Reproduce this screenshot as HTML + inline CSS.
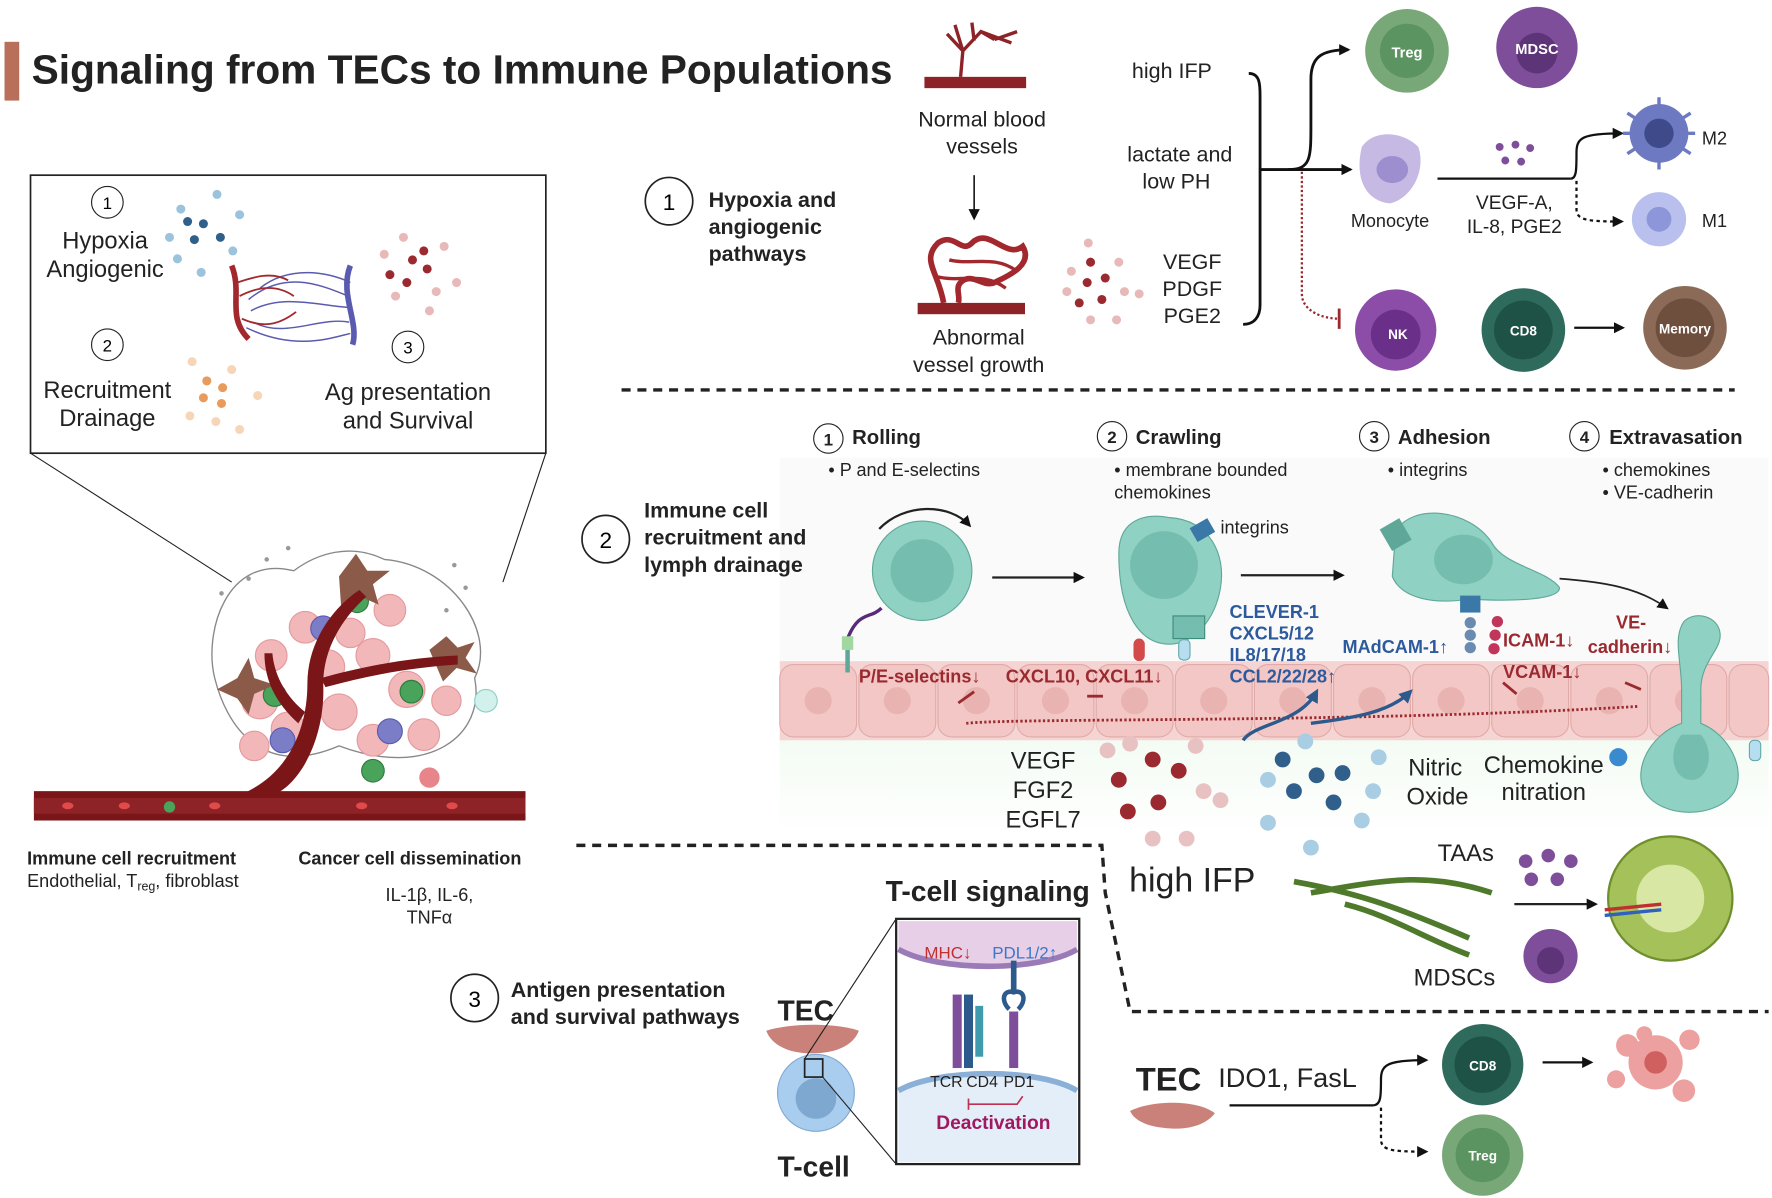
<!DOCTYPE html>
<html><head><meta charset="utf-8">
<style>
html,body{margin:0;padding:0;background:#fff;}
svg{display:block;}
text{font-family:"Liberation Sans",Arial,sans-serif;}
</style></head>
<body>
<svg width="1772" height="1198" viewBox="0 0 1568 1060" preserveAspectRatio="none" xmlns="http://www.w3.org/2000/svg">
<defs>
<marker id="ah" markerWidth="10" markerHeight="10" refX="8" refY="5" orient="auto" markerUnits="userSpaceOnUse"><path d="M0,0 L10,5 L0,10 z" fill="#111"/></marker>
<marker id="ahb" markerWidth="12" markerHeight="12" refX="9" refY="6" orient="auto" markerUnits="userSpaceOnUse"><path d="M0,0 L12,6 L0,12 z" fill="#2c5a8c"/></marker>
<linearGradient id="green" x1="0" y1="0" x2="0" y2="1"><stop offset="0" stop-color="#f3fbf3"/><stop offset="1" stop-color="#fff"/></linearGradient>
</defs>
<rect width="1568" height="1060" fill="#fff"/>

<!-- Title -->
<rect x="4" y="37" width="13" height="52" fill="#b8705a"/>
<text x="28" y="74" font-size="36" font-weight="bold" fill="#222">Signaling from TECs to Immune Populations</text>

<!-- Inset box -->
<rect x="27" y="155" width="456" height="246" fill="#fff" stroke="#222" stroke-width="1.5"/>
<line x1="27" y1="401" x2="205" y2="515" stroke="#222" stroke-width="1"/>
<line x1="483" y1="401" x2="445" y2="515" stroke="#222" stroke-width="1"/>
<circle cx="95" cy="179" r="14" fill="none" stroke="#222"/><text x="95" y="185" font-size="15" text-anchor="middle">1</text>
<text x="93" y="220" font-size="21" text-anchor="middle" fill="#222">Hypoxia</text>
<text x="93" y="245" font-size="21" text-anchor="middle" fill="#222">Angiogenic</text>
<circle cx="95" cy="305" r="14" fill="none" stroke="#222"/><text x="95" y="311" font-size="15" text-anchor="middle">2</text>
<text x="95" y="352" font-size="21" text-anchor="middle" fill="#222">Recruitment</text>
<text x="95" y="377" font-size="21" text-anchor="middle" fill="#222">Drainage</text>
<circle cx="361" cy="307" r="14" fill="none" stroke="#222"/><text x="361" y="313" font-size="15" text-anchor="middle">3</text>
<text x="361" y="354" font-size="21" text-anchor="middle" fill="#222">Ag presentation</text>
<text x="361" y="379" font-size="21" text-anchor="middle" fill="#222">and Survival</text>
<g fill="#2f5f8a"><circle cx="166" cy="196" r="4"/><circle cx="180" cy="198" r="4"/><circle cx="195" cy="210" r="4"/><circle cx="172" cy="212" r="4"/></g>
<g fill="#9cc3dc"><circle cx="160" cy="185" r="4"/><circle cx="192" cy="172" r="4"/><circle cx="212" cy="190" r="4"/><circle cx="150" cy="210" r="4"/><circle cx="178" cy="241" r="4"/><circle cx="206" cy="222" r="4"/><circle cx="157" cy="229" r="4"/></g>
<g fill="#9b2a30"><circle cx="365" cy="230" r="4"/><circle cx="378" cy="238" r="4"/><circle cx="360" cy="250" r="4"/><circle cx="375" cy="222" r="4"/><circle cx="345" cy="243" r="4"/></g>
<g fill="#e8b9b9"><circle cx="357" cy="210" r="4"/><circle cx="393" cy="218" r="4"/><circle cx="340" cy="225" r="4"/><circle cx="386" cy="258" r="4"/><circle cx="404" cy="250" r="4"/><circle cx="350" cy="262" r="4"/><circle cx="380" cy="275" r="4"/></g>
<g fill="#e89b5c"><circle cx="183" cy="337" r="4"/><circle cx="197" cy="343" r="4"/><circle cx="180" cy="352" r="4"/><circle cx="196" cy="357" r="4"/></g>
<g fill="#f7d6b8"><circle cx="170" cy="320" r="4"/><circle cx="205" cy="327" r="4"/><circle cx="228" cy="350" r="4"/><circle cx="168" cy="368" r="4"/><circle cx="212" cy="380" r="4"/><circle cx="191" cy="373" r="4"/></g>
<path d="M205,235 C215,260 200,280 220,300" stroke="#a3282e" stroke-width="5" fill="none"/>
<path d="M310,235 C300,260 318,285 312,305" stroke="#5a5ab0" stroke-width="5" fill="none"/>
<g stroke="#5a5ab0" stroke-width="1.3" fill="none">
<path d="M220,265 C250,240 280,250 308,262"/><path d="M222,275 C250,260 280,270 308,272"/><path d="M224,285 C252,300 282,280 309,285"/><path d="M230,255 C255,235 290,240 310,250"/><path d="M218,290 C260,310 290,300 310,295"/>
</g>
<g stroke="#a3282e" stroke-width="1.6" fill="none"><path d="M212,262 C235,250 250,255 260,262"/><path d="M214,282 C236,292 250,285 262,276"/><path d="M210,250 C225,245 240,240 255,248"/></g>

<!-- Tumor illustration -->
<g>
<path d="M260,505 C200,490 180,560 190,600 C200,640 230,690 300,660 C380,690 430,650 420,600 C440,560 400,500 340,495 C310,480 280,490 260,505 Z" fill="none" stroke="#888" stroke-width="1.2"/>
<g fill="#f1b7b9" stroke="#e59a9d"><circle cx="230" cy="620" r="16"/><circle cx="255" cy="645" r="15"/><circle cx="300" cy="630" r="16"/><circle cx="330" cy="655" r="14"/><circle cx="360" cy="610" r="16"/><circle cx="240" cy="580" r="14"/><circle cx="290" cy="590" r="15"/><circle cx="330" cy="580" r="15"/><circle cx="375" cy="650" r="14"/><circle cx="270" cy="555" r="14"/><circle cx="345" cy="540" r="14"/><circle cx="225" cy="660" r="13"/><circle cx="395" cy="620" r="13"/><circle cx="310" cy="560" r="13"/></g>
<g fill="#7b7dc7" stroke="#5a5ab0"><circle cx="286" cy="556" r="11"/><circle cx="250" cy="655" r="11"/><circle cx="345" cy="647" r="11"/></g>
<g fill="#4aa35a" stroke="#2f7a3d"><circle cx="316" cy="532" r="10"/><circle cx="243" cy="615" r="10"/><circle cx="364" cy="612" r="10"/><circle cx="330" cy="682" r="10"/></g>
<g fill="#8b5a48"><path d="M300,510 l15,-20 l10,15 l20,0 l-15,12 l5,18 l-18,-8 l-15,12 z"/><path d="M192,610 l18,-10 l10,-18 l5,18 l18,6 l-18,8 l-5,18 l-10,-14 z"/><path d="M380,575 l15,-12 l10,10 l15,-5 l-8,14 l10,14 l-18,-5 l-12,12 z"/></g>
<circle cx="430" cy="620" r="10" fill="#d2f0ec" stroke="#8dcfc5"/>
<g fill="#999"><circle cx="220" cy="512" r="2"/><circle cx="236" cy="495" r="2"/><circle cx="402" cy="500" r="2"/><circle cx="412" cy="520" r="2"/><circle cx="196" cy="525" r="2"/><circle cx="255" cy="485" r="2"/><circle cx="395" cy="540" r="2"/></g>
<rect x="30" y="700" width="435" height="26" fill="#7a1618"/>
<rect x="30" y="706" width="435" height="14" fill="#8e2327"/>
<path d="M215,702 C255,685 272,645 272,605 C272,565 298,535 318,522 L324,528 C305,545 286,572 286,605 C288,650 268,690 245,702 Z" fill="#7a1618"/>
<path d="M284,600 C320,590 360,582 405,580 L405,588 C360,591 325,598 288,608 Z" fill="#7a1618"/>
<path d="M264,640 C244,622 234,602 234,578 L241,578 C243,600 255,618 270,630 Z" fill="#7a1618"/>
<g fill="#e04a4a"><ellipse cx="60" cy="713" rx="5" ry="3"/><ellipse cx="110" cy="713" rx="5" ry="3"/><ellipse cx="190" cy="713" rx="5" ry="3"/><ellipse cx="320" cy="713" rx="5" ry="3"/><ellipse cx="400" cy="713" rx="5" ry="3"/></g>
<circle cx="150" cy="714" r="5" fill="#4aa35a"/>
<circle cx="380" cy="688" r="9" fill="#e8858a"/>
</g>
<text x="24" y="765" font-size="16" font-weight="bold" fill="#222">Immune cell recruitment</text>
<text x="24" y="785" font-size="16" fill="#222">Endothelial, T<tspan font-size="11" dy="3">reg</tspan><tspan dy="-3">, fibroblast</tspan></text>
<text x="264" y="765" font-size="16" font-weight="bold" fill="#222">Cancer cell dissemination</text>
<text x="380" y="797" font-size="16" text-anchor="middle" fill="#222">IL-1β, IL-6,</text>
<text x="380" y="817" font-size="16" text-anchor="middle" fill="#222">TNFα</text>

<!-- Section 1 -->
<circle cx="592" cy="178" r="21" fill="none" stroke="#222" stroke-width="1.5"/><text x="592" y="186" font-size="20" text-anchor="middle">1</text>
<text x="627" y="183" font-size="19" font-weight="bold" fill="#222">Hypoxia and</text>
<text x="627" y="207" font-size="19" font-weight="bold" fill="#222">angiogenic</text>
<text x="627" y="231" font-size="19" font-weight="bold" fill="#222">pathways</text>
<rect x="818" y="68" width="90" height="10" fill="#8e2327"/>
<path d="M850,68 L852,45 L838,30 M852,45 L868,28 L880,35 M862,36 L860,20 M852,45 L845,22 M868,28 L895,38 M880,35 L900,28" stroke="#8e2327" stroke-width="3" fill="none"/>
<text x="869" y="112" font-size="19" text-anchor="middle" fill="#222">Normal blood</text>
<text x="869" y="136" font-size="19" text-anchor="middle" fill="#222">vessels</text>
<line x1="862" y1="155" x2="862" y2="193" stroke="#222" stroke-width="1.5" marker-end="url(#ah)"/>
<rect x="812" y="268" width="95" height="10" fill="#8e2327"/>
<path d="M835,268 C830,240 815,230 830,215 C845,205 850,225 860,215 C875,200 890,230 905,218 C915,235 890,245 880,250 C870,255 860,240 850,250 C845,255 850,262 848,268" stroke="#a3282e" stroke-width="5" fill="none"/>
<path d="M840,230 C860,235 880,225 900,240 M830,245 C850,250 870,240 890,255" stroke="#a3282e" stroke-width="3" fill="none"/>
<text x="866" y="305" font-size="19" text-anchor="middle" fill="#222">Abnormal</text>
<text x="866" y="329" font-size="19" text-anchor="middle" fill="#222">vessel growth</text>
<g fill="#9b2a30"><circle cx="965" cy="232" r="4"/><circle cx="978" cy="246" r="4"/><circle cx="962" cy="250" r="4"/><circle cx="955" cy="268" r="4"/><circle cx="975" cy="265" r="4"/></g>
<g fill="#e8b9b9"><circle cx="948" cy="240" r="4"/><circle cx="990" cy="232" r="4"/><circle cx="995" cy="258" r="4"/><circle cx="944" cy="258" r="4"/><circle cx="965" cy="283" r="4"/><circle cx="988" cy="283" r="4"/><circle cx="963" cy="215" r="4"/><circle cx="1008" cy="260" r="4"/></g>
<text x="1037" y="69" font-size="19" text-anchor="middle" fill="#222">high IFP</text>
<text x="1044" y="143" font-size="19" text-anchor="middle" fill="#222">lactate and</text>
<text x="1041" y="167" font-size="19" text-anchor="middle" fill="#222">low PH</text>
<text x="1055" y="238" font-size="19" text-anchor="middle" fill="#222">VEGF</text>
<text x="1055" y="262" font-size="19" text-anchor="middle" fill="#222">PDGF</text>
<text x="1055" y="286" font-size="19" text-anchor="middle" fill="#222">PGE2</text>
<path d="M1105,65 C1115,65 1115,75 1115,85 L1115,270 C1115,280 1110,287 1100,287" stroke="#111" stroke-width="2.5" fill="none"/>
<line x1="1115" y1="150" x2="1195" y2="150" stroke="#111" stroke-width="2.5" marker-end="url(#ah)"/>
<path d="M1140,150 C1160,150 1160,140 1160,110 L1160,70 C1160,50 1170,44 1193,44" stroke="#111" stroke-width="2.5" fill="none" marker-end="url(#ah)"/>
<path d="M1152,152 L1152,260 C1152,275 1170,282 1185,282" stroke="#9b2a30" stroke-width="2" stroke-dasharray="2,2" fill="none"/>
<line x1="1185" y1="273" x2="1185" y2="291" stroke="#9b2a30" stroke-width="2.5"/>
<circle cx="1245" cy="45" r="37" fill="#78a877"/><circle cx="1245" cy="45" r="24" fill="#5b9460"/><text x="1245" y="51" font-size="13" font-weight="bold" fill="#fff" text-anchor="middle">Treg</text>
<circle cx="1360" cy="42" r="36" fill="#7e4e9a"/><circle cx="1360" cy="47" r="18" fill="#5e3478"/><text x="1360" y="48" font-size="13" font-weight="bold" fill="#fff" text-anchor="middle">MDSC</text>
<path d="M1205,130 C1215,115 1240,115 1255,130 C1262,150 1250,175 1230,180 C1210,178 1198,160 1205,130 Z" fill="#c6b9e3"/><ellipse cx="1232" cy="150" rx="14" ry="12" fill="#9d8fcf"/>
<text x="1230" y="201" font-size="16" text-anchor="middle" fill="#222">Monocyte</text>
<g fill="#7e4e9a"><circle cx="1327" cy="130" r="3.5"/><circle cx="1341" cy="128" r="3.5"/><circle cx="1354" cy="131" r="3.5"/><circle cx="1332" cy="142" r="3.5"/><circle cx="1346" cy="143" r="3.5"/></g>
<line x1="1272" y1="158" x2="1390" y2="158" stroke="#111" stroke-width="2"/>
<path d="M1390,158 C1395,158 1395,150 1395,135 C1395,122 1400,118 1435,118" stroke="#111" stroke-width="2" fill="none" marker-end="url(#ah)"/>
<path d="M1395,160 L1395,185 C1395,195 1405,196 1435,196" stroke="#111" stroke-width="2" stroke-dasharray="3,3" fill="none" marker-end="url(#ah)"/>
<text x="1340" y="185" font-size="17" text-anchor="middle" fill="#222">VEGF-A,</text>
<text x="1340" y="206" font-size="17" text-anchor="middle" fill="#222">IL-8, PGE2</text>
<circle cx="1468" cy="118" r="26" fill="#6d7ac2"/>
<g stroke="#6d7ac2" stroke-width="3"><line x1="1440" y1="100" x2="1496" y2="136"/><line x1="1440" y1="136" x2="1496" y2="100"/><line x1="1468" y1="86" x2="1468" y2="150"/><line x1="1436" y1="118" x2="1500" y2="118"/></g>
<circle cx="1468" cy="118" r="13" fill="#3f4a8a"/>
<text x="1506" y="128" font-size="16" fill="#222">M2</text>
<circle cx="1468" cy="194" r="24" fill="#b9c0ee"/><circle cx="1468" cy="194" r="11" fill="#8d96d8"/>
<text x="1506" y="201" font-size="16" fill="#222">M1</text>
<circle cx="1235" cy="292" r="36" fill="#8c4da8"/><circle cx="1235" cy="296" r="22" fill="#6a2f88"/><text x="1237" y="300" font-size="12" font-weight="bold" fill="#fff" text-anchor="middle">NK</text>
<circle cx="1348" cy="292" r="37" fill="#2e6b5c"/><circle cx="1348" cy="292" r="26" fill="#1f5246"/><text x="1348" y="297" font-size="12" font-weight="bold" fill="#fff" text-anchor="middle">CD8</text>
<line x1="1393" y1="290" x2="1436" y2="290" stroke="#111" stroke-width="2" marker-end="url(#ah)"/>
<circle cx="1491" cy="290" r="37" fill="#8b6b58"/><circle cx="1491" cy="290" r="26" fill="#6e4f3e"/><text x="1491" y="295" font-size="12" font-weight="bold" fill="#fff" text-anchor="middle">Memory</text>

<!-- dashed separators -->
<line x1="550" y1="345" x2="1535" y2="345" stroke="#222" stroke-width="3" stroke-dasharray="8,6"/>
<path d="M510,748 L975,748 L978,790 L1000,895 L1565,895" stroke="#222" stroke-width="3" stroke-dasharray="8,6" fill="none"/>

<!-- Section 2 -->
<rect x="690" y="405" width="875" height="335" fill="#fafafa"/>
<rect x="690" y="650" width="875" height="90" fill="url(#green)"/>
<circle cx="536" cy="477" r="21" fill="none" stroke="#222" stroke-width="1.5"/><text x="536" y="485" font-size="20" text-anchor="middle">2</text>
<text x="570" y="458" font-size="19" font-weight="bold" fill="#222">Immune cell</text>
<text x="570" y="482" font-size="19" font-weight="bold" fill="#222">recruitment and</text>
<text x="570" y="506" font-size="19" font-weight="bold" fill="#222">lymph drainage</text>
<g font-size="18" font-weight="bold" fill="#222">
<circle cx="733" cy="388" r="13" fill="#fff" stroke="#222"/><text x="733" y="394" font-size="15" text-anchor="middle">1</text><text x="754" y="393">Rolling</text>
<circle cx="984" cy="386" r="13" fill="#fff" stroke="#222"/><text x="984" y="392" font-size="15" text-anchor="middle">2</text><text x="1005" y="393">Crawling</text>
<circle cx="1216" cy="386" r="13" fill="#fff" stroke="#222"/><text x="1216" y="392" font-size="15" text-anchor="middle">3</text><text x="1237" y="393">Adhesion</text>
<circle cx="1402" cy="386" r="13" fill="#fff" stroke="#222"/><text x="1402" y="392" font-size="15" text-anchor="middle">4</text><text x="1424" y="393">Extravasation</text>
</g>
<g font-size="16" fill="#222">
<text x="733" y="421">• P and E-selectins</text>
<text x="986" y="421">• membrane bounded</text><text x="986" y="441">chemokines</text>
<text x="1228" y="421">• integrins</text>
<text x="1418" y="421">• chemokines</text><text x="1418" y="441">• VE-cadherin</text>
</g>
<rect x="690" y="585" width="875" height="70" fill="#f5d5d3"/>
<g fill="#f3c7c5" stroke="#e0aaa8">
<rect x="690" y="588" width="68" height="64" rx="12"/><rect x="760" y="588" width="68" height="64" rx="12"/><rect x="830" y="588" width="68" height="64" rx="12"/><rect x="900" y="588" width="68" height="64" rx="12"/><rect x="970" y="588" width="68" height="64" rx="12"/><rect x="1040" y="588" width="68" height="64" rx="12"/><rect x="1110" y="588" width="68" height="64" rx="12"/><rect x="1180" y="588" width="68" height="64" rx="12"/><rect x="1250" y="588" width="68" height="64" rx="12"/><rect x="1320" y="588" width="68" height="64" rx="12"/><rect x="1390" y="588" width="68" height="64" rx="12"/><rect x="1460" y="588" width="68" height="64" rx="12"/><rect x="1530" y="588" width="35" height="64" rx="12"/>
</g>
<g fill="#e9b3b1"><circle cx="724" cy="620" r="12"/><circle cx="794" cy="620" r="12"/><circle cx="864" cy="620" r="12"/><circle cx="934" cy="620" r="12"/><circle cx="1004" cy="620" r="12"/><circle cx="1074" cy="620" r="12"/><circle cx="1144" cy="620" r="12"/><circle cx="1214" cy="620" r="12"/><circle cx="1284" cy="620" r="12"/><circle cx="1354" cy="620" r="12"/><circle cx="1424" cy="620" r="12"/><circle cx="1494" cy="620" r="12"/></g>
<circle cx="816" cy="505" r="44" fill="#8fd1c2" stroke="#5fa899"/><circle cx="816" cy="505" r="28" fill="#75bdae"/>
<path d="M778,468 C800,445 840,445 858,465" stroke="#222" stroke-width="2" fill="none" marker-end="url(#ah)"/>
<path d="M750,565 C760,540 770,548 780,538" stroke="#5a2a7a" stroke-width="3" fill="none"/>
<rect x="745" y="563" width="10" height="12" fill="#a0d8a0"/><line x1="750" y1="575" x2="750" y2="595" stroke="#5fa899" stroke-width="4"/>
<line x1="878" y1="511" x2="958" y2="511" stroke="#222" stroke-width="2" marker-end="url(#ah)"/>
<path d="M990,490 C990,455 1020,455 1035,458 C1070,460 1085,490 1080,520 C1075,550 1055,570 1035,570 C1010,570 990,545 990,490 Z" fill="#8fd1c2" stroke="#5fa899"/>
<circle cx="1030" cy="500" r="30" fill="#75bdae"/>
<rect x="1055" y="462" width="18" height="14" fill="#3a78a8" transform="rotate(-30 1064 469)"/>
<text x="1080" y="472" font-size="16" fill="#222">integrins</text>
<rect x="1038" y="545" width="28" height="20" fill="#75bdae" stroke="#3e8c7c"/>
<rect x="1043" y="566" width="10" height="18" rx="4" fill="#b7def0" stroke="#6aa"/>
<rect x="1003" y="565" width="10" height="20" rx="5" fill="#d34a4a"/>
<line x1="1098" y1="509" x2="1188" y2="509" stroke="#222" stroke-width="2" marker-end="url(#ah)"/>
<path d="M1235,470 C1250,445 1300,450 1320,480 C1330,500 1370,505 1380,520 C1380,532 1330,532 1300,530 C1270,535 1240,530 1232,510 Z" fill="#8fd1c2" stroke="#5fa899"/>
<ellipse cx="1295" cy="495" rx="26" ry="22" fill="#75bdae"/>
<rect x="1225" y="462" width="20" height="22" fill="#5fa899" transform="rotate(-30 1235 473)"/>
<rect x="1292" y="527" width="18" height="15" fill="#3a78a8"/>
<g fill="#6a8ab0"><circle cx="1301" cy="551" r="5"/><circle cx="1301" cy="562" r="5"/><circle cx="1301" cy="573" r="5"/></g>
<g fill="#c2355a"><circle cx="1325" cy="550" r="5"/><circle cx="1323" cy="562" r="5"/><circle cx="1322" cy="574" r="5"/></g>
<path d="M1380,512 C1420,515 1450,520 1475,538" stroke="#222" stroke-width="1.5" fill="none" marker-end="url(#ah)"/>
<path d="M1490,550 C1500,540 1520,545 1522,560 C1524,575 1505,585 1505,610 L1505,640 C1530,650 1545,680 1535,700 C1520,725 1470,725 1455,700 C1445,680 1460,650 1488,640 L1488,610 C1488,585 1480,565 1490,550 Z" fill="#8fd1c2" stroke="#5fa899"/>
<path d="M1488,650 C1475,665 1480,690 1497,690 C1512,690 1518,665 1505,650 Z" fill="#75bdae"/>
<circle cx="1432" cy="670" r="8" fill="#3a8ad0"/><rect x="1548" y="655" width="10" height="18" rx="4" fill="#b7def0" stroke="#6aa"/>
<g font-size="16" font-weight="bold" fill="#9b2a30">
<text x="760" y="604">P/E-selectins↓</text>
<text x="890" y="604">CXCL10, CXCL11↓</text>
<text x="1330" y="572">ICAM-1↓</text>
<text x="1330" y="600">VCAM-1↓</text>
<text x="1430" y="556">VE-</text>
<text x="1405" y="578">cadherin↓</text>
</g>
<g font-size="16" font-weight="bold" fill="#2c5a9c">
<text x="1088" y="547">CLEVER-1</text>
<text x="1088" y="566">CXCL5/12</text>
<text x="1088" y="585">IL8/17/18</text>
<text x="1088" y="604">CCL2/22/28↑</text>
<text x="1188" y="578">MAdCAM-1↑</text>
</g>
<path d="M855,640 C900,635 1200,640 1450,625" stroke="#9b2a30" stroke-width="2.5" stroke-dasharray="2,2" fill="none"/>
<g stroke="#9b2a30" stroke-width="2.5"><line x1="848" y1="622" x2="862" y2="612"/><line x1="962" y1="616" x2="976" y2="616"/><line x1="1330" y1="604" x2="1342" y2="614"/><line x1="1438" y1="604" x2="1452" y2="610"/></g>
<path d="M1100,655 C1110,640 1150,640 1165,612" stroke="#2c5a8c" stroke-width="3" fill="none" marker-end="url(#ahb)"/>
<path d="M1160,640 C1200,635 1230,630 1248,612" stroke="#2c5a8c" stroke-width="3" fill="none" marker-end="url(#ahb)"/>
<g font-size="21" fill="#222" text-anchor="middle">
<text x="923" y="680">VEGF</text><text x="923" y="706">FGF2</text><text x="923" y="732">EGFL7</text>
<text x="1270" y="686">Nitric</text><text x="1272" y="712">Oxide</text>
<text x="1366" y="684">Chemokine</text><text x="1366" y="708">nitration</text>
</g>
<g fill="#9b2a30"><circle cx="1020" cy="672" r="7"/><circle cx="990" cy="690" r="7"/><circle cx="1043" cy="682" r="7"/><circle cx="1025" cy="710" r="7"/><circle cx="998" cy="718" r="7"/></g>
<g fill="#e8c2c2"><circle cx="980" cy="664" r="7"/><circle cx="1058" cy="660" r="7"/><circle cx="1065" cy="700" r="7"/><circle cx="1080" cy="708" r="7"/><circle cx="1020" cy="742" r="7"/><circle cx="1050" cy="742" r="7"/><circle cx="1000" cy="658" r="7"/></g>
<g fill="#2f5f8a"><circle cx="1135" cy="672" r="7"/><circle cx="1165" cy="686" r="7"/><circle cx="1188" cy="684" r="7"/><circle cx="1145" cy="700" r="7"/><circle cx="1180" cy="710" r="7"/></g>
<g fill="#a9cde3"><circle cx="1155" cy="656" r="7"/><circle cx="1122" cy="690" r="7"/><circle cx="1215" cy="700" r="7"/><circle cx="1122" cy="728" r="7"/><circle cx="1160" cy="750" r="7"/><circle cx="1205" cy="726" r="7"/><circle cx="1220" cy="670" r="7"/></g>
<text x="1055" y="789" font-size="30" text-anchor="middle" fill="#222">high IFP</text>
<text x="1297" y="762" font-size="21" text-anchor="middle" fill="#222">TAAs</text>
<text x="1287" y="872" font-size="21" text-anchor="middle" fill="#222">MDSCs</text>
<g fill="#7e4e9a"><circle cx="1350" cy="762" r="6"/><circle cx="1370" cy="757" r="6"/><circle cx="1390" cy="762" r="6"/><circle cx="1355" cy="778" r="6"/><circle cx="1378" cy="778" r="6"/></g>
<circle cx="1372" cy="846" r="24" fill="#7e4e9a"/><circle cx="1372" cy="850" r="12" fill="#5e3478"/>
<path d="M1145,780 C1200,790 1230,800 1300,830 M1160,790 C1220,780 1260,770 1320,790 M1190,800 C1230,810 1260,830 1300,845" stroke="#4f7a2c" stroke-width="5" fill="none"/>
<line x1="1340" y1="800" x2="1412" y2="800" stroke="#222" stroke-width="2" marker-end="url(#ah)"/>
<ellipse cx="1478" cy="795" rx="55" ry="55" fill="#a4c15a" stroke="#6f8f2e" stroke-width="2"/>
<circle cx="1478" cy="795" r="30" fill="#d9e7a5"/>
<path d="M1420,805 L1470,800" stroke="#c03030" stroke-width="3"/><path d="M1420,810 L1470,805" stroke="#3060c0" stroke-width="3"/>

<!-- Section 3 -->
<circle cx="420" cy="883" r="21" fill="none" stroke="#222" stroke-width="1.5"/><text x="420" y="891" font-size="20" text-anchor="middle">3</text>
<text x="452" y="882" font-size="19" font-weight="bold" fill="#222">Antigen presentation</text>
<text x="452" y="906" font-size="19" font-weight="bold" fill="#222">and survival pathways</text>
<text x="874" y="797" font-size="25" font-weight="bold" text-anchor="middle" fill="#222">T-cell signaling</text>
<rect x="793" y="813" width="162" height="217" fill="#fff" stroke="#222" stroke-width="2"/>
<path d="M795,840 C830,860 920,860 953,840 L953,815 L795,815 Z" fill="#e7cfe8"/>
<path d="M795,840 C830,860 920,860 953,840" stroke="#9b7ab8" stroke-width="5" fill="none"/>
<path d="M795,965 C830,945 920,945 953,965 L953,1028 L795,1028 Z" fill="#e4eef8"/>
<path d="M795,965 C830,945 920,945 953,965" stroke="#8ab0d8" stroke-width="5" fill="none"/>
<text x="818" y="848" font-size="15" fill="#c0302f">MHC↓</text>
<text x="878" y="848" font-size="15" fill="#3a78c8">PDL1/2↑</text>
<rect x="843" y="880" width="8" height="65" fill="#7e4e9a"/><rect x="853" y="880" width="8" height="65" fill="#2c5a8c"/><rect x="863" y="890" width="7" height="45" fill="#3e9cae"/>
<rect x="893" y="895" width="8" height="50" fill="#7e4e9a"/>
<path d="M893,893 C885,885 888,875 897,878 C906,875 909,885 901,893" stroke="#2c5a8c" stroke-width="4" fill="none"/>
<line x1="897" y1="878" x2="897" y2="850" stroke="#2c5a8c" stroke-width="5"/>
<text x="823" y="962" font-size="14" fill="#222">TCR</text><text x="855" y="962" font-size="14" fill="#222">CD4</text><text x="888" y="962" font-size="14" fill="#222">PD1</text>
<path d="M857,977 L900,977 L905,970" stroke="#c03050" stroke-width="1.5" fill="none"/><line x1="857" y1="972" x2="857" y2="982" stroke="#c03050" stroke-width="1.5"/>
<text x="879" y="999" font-size="17" font-weight="bold" text-anchor="middle" fill="#a01860">Deactivation</text>
<text x="713" y="903" font-size="25" font-weight="bold" text-anchor="middle" fill="#222">TEC</text>
<path d="M678,912 C700,905 740,905 760,912 C755,925 740,932 718,932 C698,932 683,925 678,912 Z" fill="#c9817a"/>
<circle cx="722" cy="967" r="34" fill="#a9cdee" stroke="#7fa8d0"/><circle cx="722" cy="972" r="18" fill="#7fa8d0"/>
<rect x="712" y="937" width="16" height="16" fill="none" stroke="#222" stroke-width="1.5"/>
<line x1="712" y1="937" x2="793" y2="813" stroke="#222"/><line x1="728" y1="953" x2="793" y2="1030" stroke="#222"/>
<text x="720" y="1041" font-size="25" font-weight="bold" text-anchor="middle" fill="#222">T-cell</text>
<text x="1034" y="965" font-size="29" font-weight="bold" text-anchor="middle" fill="#222">TEC</text>
<text x="1078" y="962" font-size="24" fill="#222">IDO1, FasL</text>
<path d="M1000,983 C1020,973 1060,973 1075,985 C1065,998 1045,1000 1030,998 C1012,996 1003,990 1000,983 Z" fill="#c9817a"/>
<line x1="1088" y1="978" x2="1215" y2="978" stroke="#111" stroke-width="2"/>
<path d="M1215,978 C1222,978 1222,970 1222,955 C1222,942 1228,938 1262,938" stroke="#111" stroke-width="2" fill="none" marker-end="url(#ah)"/>
<path d="M1222,980 L1222,1008 C1222,1018 1232,1019 1262,1019" stroke="#111" stroke-width="2" stroke-dasharray="3,3" fill="none" marker-end="url(#ah)"/>
<circle cx="1312" cy="942" r="36" fill="#2e6b5c"/><circle cx="1312" cy="942" r="25" fill="#1f5246"/><text x="1312" y="947" font-size="12" font-weight="bold" fill="#fff" text-anchor="middle">CD8</text>
<circle cx="1312" cy="1022" r="36" fill="#78a877"/><circle cx="1312" cy="1022" r="24" fill="#5b9460"/><text x="1312" y="1027" font-size="12" font-weight="bold" fill="#fff" text-anchor="middle">Treg</text>
<line x1="1365" y1="940" x2="1408" y2="940" stroke="#111" stroke-width="2" marker-end="url(#ah)"/>
<g fill="#eda0a0"><circle cx="1465" cy="940" r="24"/><circle cx="1440" cy="925" r="10"/><circle cx="1495" cy="920" r="9"/><circle cx="1430" cy="955" r="8"/><circle cx="1490" cy="965" r="10"/><circle cx="1455" cy="915" r="7"/></g>
<circle cx="1465" cy="940" r="10" fill="#d06060"/>
</svg>
</body></html>
